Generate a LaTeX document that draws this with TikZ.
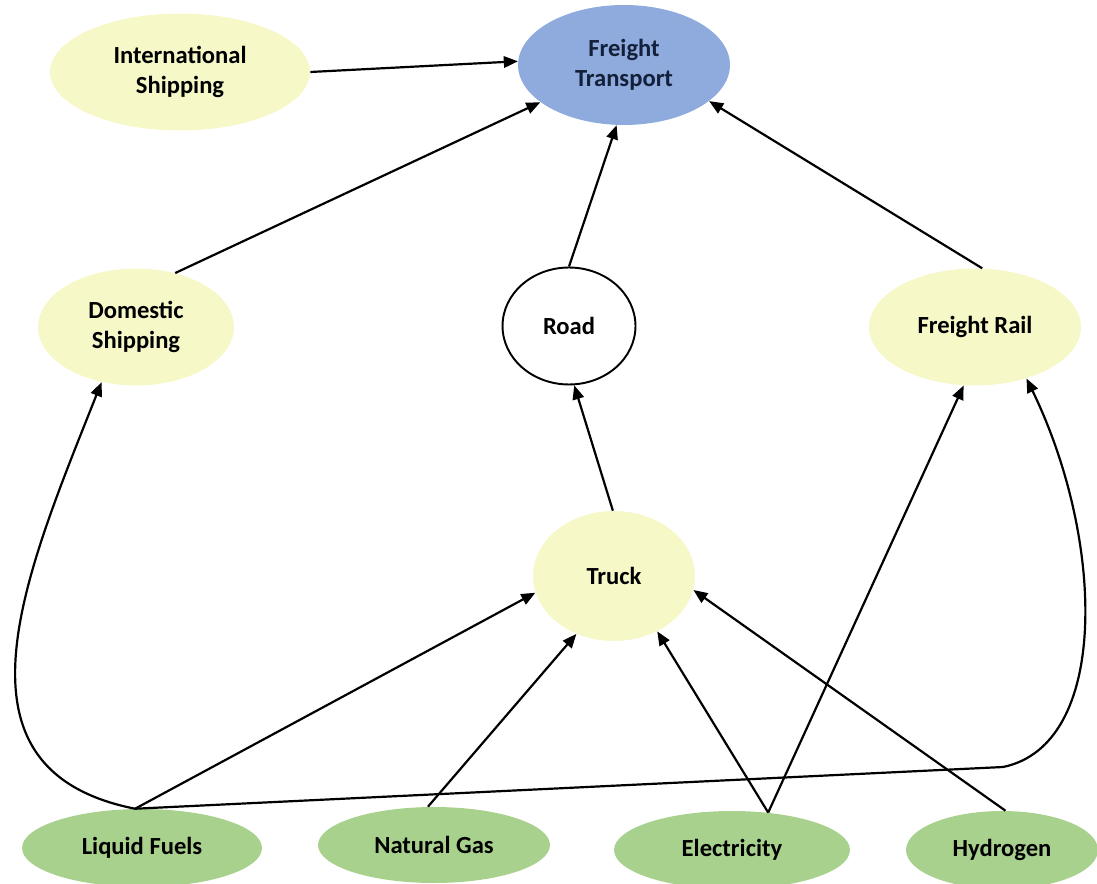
\documentclass[tikz,border=0pt]{standalone}
\usepackage{fontspec}
\setmainfont{Carlito}
\usepackage{xcolor}
\usepackage{tikz}
\usetikzlibrary{shapes,arrows.meta,positioning,calc}
\definecolor{freightblue}{HTML}{8FAADC}
\definecolor{freightnavy}{HTML}{13203A}
\definecolor{modeyellow}{HTML}{F6F8C8}
\definecolor{fuelgreen}{HTML}{A9D18E}

\begin{document}
\begin{tikzpicture}[
    x=0.02cm,y=-0.02cm,
    nd/.style    = {ellipse,inner sep=0pt,align=center,
                    font=\fontsize{14}{17}\selectfont\bfseries},
    goalB/.style = {nd,fill=freightblue,text=freightnavy},
    modeY/.style = {nd,fill=modeyellow},
    ring/.style  = {nd,draw=black,line width=1.1pt,fill=white},
    fuelG/.style = {nd,fill=fuelgreen},
    arr/.style   = {line width=1.25pt,-{Triangle[length=8pt,width=6.5pt]}},
  ]
  \useasboundingbox (0,0) rectangle (1097,884);

  % Top level
  \node[goalB,minimum width=4.24cm,minimum height=2.4cm] (ft) at (624,65)
       {Freight\\Transport};
  \node[modeY,minimum width=5.2cm,minimum height=2.34cm] (is) at (180,72)
       {International\\Shipping};

  % Modes
  \node[modeY,minimum width=3.92cm,minimum height=2.34cm] (ds) at (136,327)
       {Domestic\\Shipping};
  \node[ring,minimum width=2.66cm,minimum height=2.34cm] (rd) at (569,326)
       {Road};
  \node[modeY,minimum width=4.24cm,minimum height=2.34cm] (fr) at (975,327)
       {Freight Rail};
  \node[modeY,minimum width=3.24cm,minimum height=2.6cm] (tr) at (614,576)
       {Truck};

  % Fuels
  \node[fuelG,minimum width=4.8cm,minimum height=1.56cm] (lf) at (142,848)
       {Liquid Fuels};
  \node[fuelG,minimum width=4.64cm,minimum height=1.52cm] (ng) at (434,845)
       {Natural Gas};
  \node[fuelG,minimum width=4.72cm,minimum height=1.56cm] (el) at (732,850)
       {Electricity};
  \node[fuelG,minimum width=3.84cm,minimum height=1.56cm] (hy) at (1002,850)
       {Hydrogen};
  \coordinate (lfbend) at (1003,767);

  % Links to freight transport
  \draw[arr] (is.east) -- (ft.178);
  \draw[arr] (ds.54) -- (ft.204);
  \draw[arr] (rd.north) -- (ft.263);
  \draw[arr] (fr.83) -- (ft.337);
  \draw[arr] (tr.91) -- (rd.275);

  % Fuel links
  \draw[arr] (lf.100) .. controls (-60,770) and (25,575) .. (ds.238);
  \draw[arr] (lf.100) -- (tr.192);
  \draw[arr] (lf.100) -- (lfbend) .. controls (1110,745) and (1105,540) .. (fr.315);
  \draw[arr] (ng.99) -- (tr.237);
  \draw[arr] (el.46) -- (tr.308);
  \draw[arr] (el.46) -- (fr.259);
  \draw[arr] (hy.85) -- (tr.350);

\end{tikzpicture}
\end{document}
